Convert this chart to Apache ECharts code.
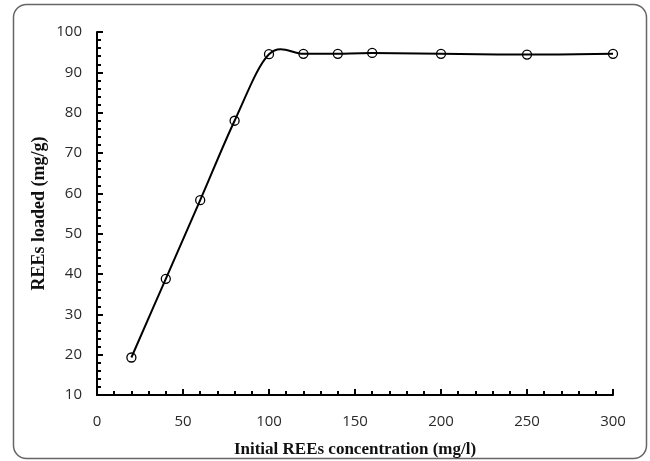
<!DOCTYPE html>
<html>
<head>
<meta charset="utf-8">
<script src="https://cdn.jsdelivr.net/npm/echarts@6/dist/echarts.min.js"></script>
<style>
  html, body { margin: 0; padding: 0; background: #fff; }
  #chart { width: 650px; height: 461px; }
</style>
</head>
<body>
<div id="chart"></div>
<script>
// Initial concentration (mg/l) and amount of REEs loaded (mg/g)
const concentration = [20, 40, 60, 80, 100, 120, 140, 160, 200, 250, 300];
const loaded = [19.3, 38.8, 58.3, 78.0, 94.5, 94.6, 94.6, 94.8, 94.6, 94.4, 94.6];

const xTitle = 'Initial REEs concentration (mg/l)';
const yTitle = 'REEs loaded (mg/g)';

const points = concentration.map((c, i) => [c, loaded[i]]);

const chart = echarts.init(document.getElementById('chart'), null, { renderer: 'canvas' });

const labelFont = { fontFamily: '"Open Sans", "DejaVu Sans", sans-serif', fontSize: 15, color: '#2a2a2a' };
const titleFont = { fontFamily: '"Liberation Serif", "Times New Roman", serif', fontWeight: 'bold', color: '#111' };

// Smoothed curve through all points (Catmull-Rom style Bezier in pixel space)
function renderCurve(params, api) {
  const p = points.map(d => api.coord(d));
  const n = p.length;
  let path = 'M' + p[0][0] + ' ' + p[0][1];
  for (let i = 0; i < n - 1; i++) {
    const p0 = p[Math.max(i - 1, 0)];
    const p1 = p[i];
    const p2 = p[i + 1];
    const p3 = p[Math.min(i + 2, n - 1)];
    const c1x = p1[0] + (p2[0] - p0[0]) / 6;
    const c1y = p1[1] + (p2[1] - p0[1]) / 6;
    const c2x = p2[0] - (p3[0] - p1[0]) / 6;
    const c2y = p2[1] - (p3[1] - p1[1]) / 6;
    path += ' C' + c1x + ' ' + c1y + ' ' + c2x + ' ' + c2y + ' ' + p2[0] + ' ' + p2[1];
  }
  return {
    type: 'path',
    shape: { pathData: path },
    style: { fill: 'none', stroke: '#000', lineWidth: 2 }
  };
}

chart.setOption({
  animation: false,
  backgroundColor: '#fff',
  graphic: [{
    type: 'rect',
    shape: { x: 13.5, y: 4.5, width: 633, height: 454, r: 13 },
    style: { fill: 'none', stroke: '#666', lineWidth: 1.5 },
    silent: true
  }],
  grid: { left: 97, right: 37, top: 32, bottom: 66, containLabel: false, outerBoundsMode: 'none' },
  xAxis: {
    type: 'value',
    min: 0, max: 300, interval: 50,
    name: xTitle,
    nameLocation: 'middle',
    nameGap: 46,
    nameMoveOverlap: false,
    nameTextStyle: Object.assign({ fontSize: 17 }, titleFont),
    axisLine: { lineStyle: { color: '#000', width: 2 } },
    axisTick: { inside: true, length: 6, lineStyle: { color: '#000', width: 2 } },
    minorTick: { show: true, splitNumber: 5, length: 4, lineStyle: { color: '#000', width: 2 } },
    axisLabel: Object.assign({ margin: 19 }, labelFont),
    splitLine: { show: false }
  },
  yAxis: {
    type: 'value',
    min: 10, max: 100, interval: 10,
    name: yTitle,
    nameLocation: 'middle',
    nameGap: 49,
    nameMoveOverlap: false,
    nameTextStyle: Object.assign({ fontSize: 18 }, titleFont),
    axisLine: { lineStyle: { color: '#000', width: 2 } },
    axisTick: { inside: true, length: 6, lineStyle: { color: '#000', width: 2 } },
    minorTick: { show: true, splitNumber: 5, length: 4, lineStyle: { color: '#000', width: 2 } },
    axisLabel: Object.assign({ margin: 15 }, labelFont),
    splitLine: { show: false }
  },
  series: [{
    type: 'custom',
    data: [0],
    renderItem: renderCurve,
    silent: true
  }, {
    type: 'scatter',
    data: points,
    symbol: 'circle',
    symbolSize: 9,
    itemStyle: { color: 'rgba(255,255,255,0)', borderColor: '#000', borderWidth: 1.3, opacity: 1 }
  }]
});
</script>
</body>
</html>
